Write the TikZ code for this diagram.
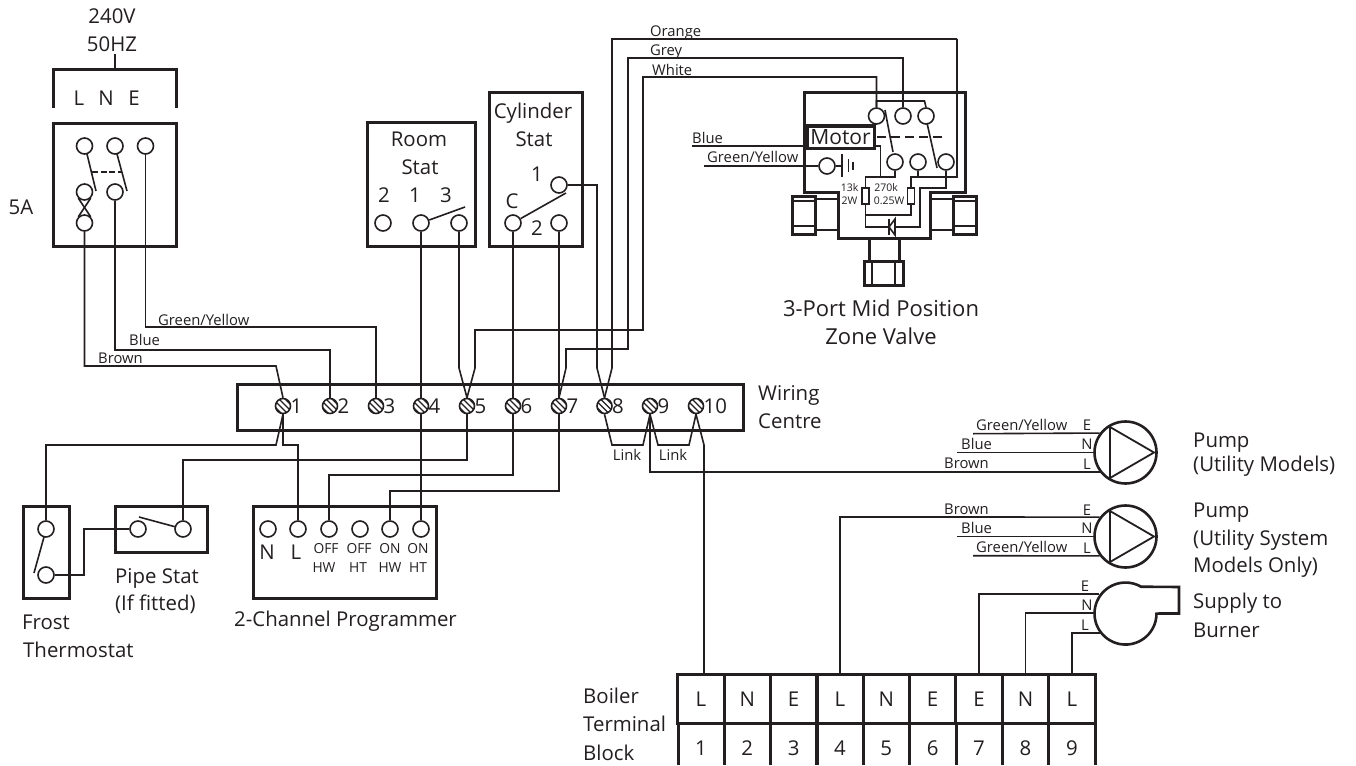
\documentclass[tikz,border=0pt]{standalone}
\usepackage{fontspec}
\setmainfont{Open Sans}
\usetikzlibrary{calc}
\definecolor{ink}{HTML}{231F20}
\tikzset{
  wire/.style={line width=1.6pt,color=ink,line join=miter},
  thick box/.style={draw=ink,line width=3pt,rectangle,inner sep=0pt,line join=miter},
  heavy/.style={line width=3pt,color=ink,line join=miter,line cap=butt},
  term/.style={circle,draw=ink,line width=1.6pt,minimum size=16pt,inner sep=0pt},
  screw/.style={circle,draw=ink,line width=1.6pt,minimum size=15pt,inner sep=0pt,
    path picture={\foreach \d in {-4.5,-1.5,1.5,4.5}{
      \draw[line width=1.1pt,ink] ($(path picture bounding box.center)+(\d-9,-\d-9)$) -- ($(path picture bounding box.center)+(\d+9,-\d+9)$);}}},
  txt/.style={inner sep=0pt,text=ink,font=\fontsize{20.4}{24}\selectfont,text height=14.6pt,text depth=0pt},
  lab/.style={txt},
  biglab/.style={inner sep=0pt,text=ink,font=\fontsize{22}{26}\selectfont,text height=15.7pt,text depth=0pt},
  lableft/.style={txt,anchor=west},
  wl/.style={inner sep=0pt,text=ink,font=\fontsize{14.8}{17}\selectfont,anchor=west,text height=10.6pt,text depth=0pt},
  wc/.style={inner sep=0pt,text=ink,font=\fontsize{14.8}{17}\selectfont,text height=10.6pt,text depth=0pt},
  prg/.style={inner sep=0pt,text=ink,font=\fontsize{13.8}{15}\selectfont,text height=9.9pt,text depth=0pt},
  tiny/.style={inner sep=0pt,text=ink,font=\fontsize{10.5}{12}\selectfont,text height=7.5pt,text depth=0pt},
  cell/.style={thick box,minimum width=46.3pt,minimum height=49.5pt,font=\fontsize{20.4}{24}\selectfont,text=ink},
}
\begin{document}
\begin{tikzpicture}[x=1pt,y=-1pt]
\useasboundingbox[fill=white] (0,0) rectangle (1356,765);

%% mains
\node[lab] (v240) at (112,16) {240V};
\node[lab] (hz50) at (112,44) {50HZ};
\node[lab] (mL) at (79,98) {L};
\node[lab] (mN) at (106,98) {N};
\node[lab] (mE) at (134,98) {E};
\node[lab] (a5) at (21,207) {5A};
\coordinate (brk) at (115,70);
\draw[wire] (115,54) -- (brk);
\draw[heavy] (53,108) -- (53,70) -- (176,70) -- (176,108);
\node[thick box,minimum width=123pt,minimum height=122pt] (fuse) at (114.5,185) {};
\node[term] (f1) at (84.5,146) {};
\node[term] (f2) at (115,146) {};
\node[term] (f3) at (145.5,146) {};
\node[term] (f4) at (84.5,192) {};
\node[term] (f5) at (115,192) {};
\node[term] (f6) at (84.5,223) {};
\draw[wire] (87,154) -- (96,191);
\draw[wire] (117,154) -- (127,191);
\draw[wire,dash pattern=on 6pt off 2.5pt] (92,172) -- (122,172);
\draw[wire] (f4.south west) -- (f6.north east);
\draw[wire] (f4.south east) -- (f6.north west);

%% wiring centre
\node[thick box,minimum width=506pt,minimum height=46pt] (wc) at (490,407) {};
\foreach \n/\x in {1/283,2/330,3/376,4/421,5/467,6/513,7/559,8/604.5,9/650,10/696}{
  \node[screw] (s\n) at (\x,406) {};
  \node[txt,anchor=west] (d\n) at (\x+7.5,406.5) {\n};
}
\node[lableft] (wc1) at (758,393) {Wiring};
\node[lableft] (wc2) at (758,421) {Centre};

%% room stat
\node[thick box,minimum width=108pt,minimum height=123pt] (room) at (421,184.5) {};
\node[lab] (rs1) at (419,139) {Room};
\node[lab] (rs2) at (420,167) {Stat};
\node[lab] (rs3) at (384,195) {2};
\node[lab] (rs4) at (415,195) {1};
\node[lab] (rs5) at (446,195) {3};
\node[term] (r2) at (383,223) {};
\node[term] (r1) at (421,223) {};
\node[term] (r3) at (459,223) {};
\draw[wire] (r1.20) -- (465,207);

%% cylinder stat
\node[thick box,minimum width=93pt,minimum height=153pt] (cyl) at (535.5,169.5) {};
\node[lab] (cs1) at (533,111) {Cylinder};
\node[lab] (cs2) at (534,139) {Stat};
\node[lab] (cs3) at (537,174) {1};
\node[lab] (cs4) at (512,201) {C};
\node[lab] (cs5) at (537,228) {2};
\node[term] (cC) at (513,223) {};
\node[term] (c2) at (559,223) {};
\node[term] (c1) at (559,185) {};
\draw[wire] (cC.30) -- (566,193);

%% valve
\draw[heavy] (838,192) -- (804,192) -- (804,93) -- (965,93) -- (965,192) -- (930,192) -- (930,238) -- (838,238) -- cycle;
\node[thick box,minimum width=67pt,minimum height=22pt,font=\fontsize{21}{24}\selectfont,text=ink] (motor) at (840.5,137) {Motor};
\node[term] (vt1) at (876.5,116) {};
\node[term] (vt2) at (903,116) {};
\node[term] (vt3) at (926,116) {};
\node[term] (vb1) at (895,162) {};
\node[term] (vb2) at (918,162) {};
\node[term] (vb3) at (946,162) {};
\node[term] (vg) at (827,166) {};
\draw[wire] (vt1.north) -- (876.5,101) -- (924.5,101) -- (vt3.north);
\draw[wire] (885,110) -- (893,152);
\draw[wire] (927,123) -- (937,168);
\draw[wire,line width=1.7pt,dash pattern=on 9pt off 5pt] (877,137) -- (945,137);
\draw[wire] (vg.east) -- (842,166);
\draw[heavy,line width=2pt] (842,154) -- (842,177);
\draw[heavy,line width=1.6pt] (848.5,159) -- (848.5,172);
\draw[heavy,line width=1.4pt] (853,162) -- (853,170);
\node[draw=ink,line width=1.5pt,inner sep=0pt,minimum width=7pt,minimum height=16pt] (res1) at (865.5,196) {};
\node[draw=ink,line width=1.5pt,inner sep=0pt,minimum width=7pt,minimum height=16pt] (res2) at (911,196) {};
\draw[wire] (res1.north) -- (865.5,177) -- (895,177) -- (vb1.south);
\draw[wire] (motor.south east |- 0,146) -- (880.5,146) -- (880.5,177);
\draw[wire] (res1.south) -- (865.5,227) -- (888,227);
\draw[wire] (865.5,215) -- (911,215) -- (res2.south);
\draw[wire] (res2.north) -- (911,177) -- (957,177) -- (957,39);
\draw[wire] (vb2.south) -- (918,177);
\draw[wire] (vb3.south) -- (946,188) -- (920,188) -- (920,227) -- (895,227);
\draw[heavy,line width=2pt] (888.5,219) -- (888.5,235);
\draw[heavy,line width=1.6pt] (889,227) -- (895,219) -- (895,235) -- cycle;
\node[tiny] (t13k) at (849.5,188) {13k};
\node[tiny] (t2w) at (849.5,201) {2W};
\node[tiny] (t270) at (886,188) {270k};
\node[tiny] (t025) at (889,201) {0.25W};
%% valve ports
\draw[heavy] (792,196) rectangle (815,234);
\draw[wire] (792,201) -- (815,201);
\draw[wire] (792,226) -- (815,226);
\draw[heavy,line width=2pt] (815,199) -- (838,199);
\draw[wire,line width=2pt] (815,230) -- (838,230);
\draw[heavy] (953,196) rectangle (976,234);
\draw[wire] (953,201) -- (976,201);
\draw[wire] (953,226) -- (976,226);
\draw[heavy,line width=2pt] (930,199) -- (953,199);
\draw[wire,line width=2pt] (930,230) -- (953,230);
\draw[heavy] (869,238) -- (869,261);
\draw[heavy] (899,238) -- (899,261);
\draw[heavy] (864,261) rectangle (903,285);
\draw[heavy,line width=2pt] (872,261) -- (872,285);
\draw[heavy,line width=2pt] (895,261) -- (895,285);
\node[biglab] (zv1) at (881,309) {3-Port Mid Position};
\node[biglab] (zv2) at (881,337) {Zone Valve};
%% valve feeds
\coordinate (blueL) at (692,146);
\coordinate (gyL) at (704,166);
\draw[wire] (blueL) -- (motor.south west |- blueL);
\draw[wire] (gyL) -- (vg.west);
\node[wl] (lb) at (692,138) {Blue};
\node[wl] (lgy) at (707,157) {Green/Yellow};

%% wires from fuse
\draw[wire] (f6.south) -- (84.5,366) -- (276,366) -- (s1.north);
\draw[wire] (f5.south) -- (115,350) -- (330,350) -- (s2.north);
\draw[wire] (f3.south) -- (145.5,327) -- (376,327) -- (s3.north);
\node[wl] (l1) at (158,320) {Green/Yellow};
\node[wl] (l2) at (129,340) {Blue};
\node[wl] (l3) at (98,358) {Brown};

%% stat wires
\draw[wire] (r1.south) -- (s4.north);
\draw[wire] (r3.south) -- (459,368) -- (s5.north);
\draw[wire] (cC.south) -- (s6.north);
\draw[wire] (c2.south) -- (s7.north);
\draw[wire] (c1.east) -- (597,185) -- (597,368) -- (s8.north);

%% valve to centre
\draw[wire] (vt1.north) -- (876.5,77) -- (643,77) -- (643,330) -- (475,330) -- (475,368) -- (s5.north);
\draw[wire] (vt2.north) -- (903,58) -- (628,58) -- (628,349) -- (566,349) -- (566,368) -- (s7.north);
\draw[wire] (957,39) -- (612,39) -- (612,368) -- (s8.north);
\node[wl] (lo) at (650,31) {Orange};
\node[wl] (lg) at (650,50) {Grey};
\node[wl] (lw) at (652,70) {White};

%% frost stat
\node[thick box,minimum width=46pt,minimum height=92pt] (frost) at (46,552) {};
\node[term] (fr1) at (46,529) {};
\node[term] (fr2) at (46,575) {};
\draw[wire] (44,537) -- (34,573);
\node[lableft] (ft1) at (22,622) {Frost};
\node[lableft] (ft2) at (23,650) {Thermostat};
%% pipe stat
\node[thick box,minimum width=92pt,minimum height=46pt] (pipe) at (161,529) {};
\node[term] (p1) at (138,529) {};
\node[term] (p2) at (183,529) {};
\draw[wire] (139,517) -- (176,527);
\node[lableft] (pt1) at (115,576) {Pipe Stat};
\node[lableft] (pt2) at (115,603) {(If fitted)};
\draw[wire] (fr2.east) -- (84,575) -- (84,529) -- (p1.west);
%% programmer
\node[thick box,minimum width=183pt,minimum height=92pt] (prog) at (344.5,552) {};
\node[term] (pN) at (268,529) {};
\node[term] (pL) at (298,529) {};
\node[term] (pOH) at (329,529) {};
\node[term] (pOT) at (360,529) {};
\node[term] (pNH) at (390,529) {};
\node[term] (pNT) at (421,529) {};
\node[lab] (tN) at (267,552) {N};
\node[lab] (tL) at (296,552) {L};
\node[prg] (a1) at (326,549) {OFF};
\node[prg] (a2) at (324,567.5) {HW};
\node[prg] (a3) at (359,549) {OFF};
\node[prg] (a4) at (358,567.5) {HT};
\node[prg] (a5b) at (390,549) {ON};
\node[prg] (a6) at (390,567.5) {HW};
\node[prg] (a7) at (418,549) {ON};
\node[prg] (a8) at (418,567.5) {HT};
\node[lableft] (pgt) at (234,619) {2-Channel Programmer};
%% centre to lower devices
\draw[wire] (s1.south) -- (276,445) -- (46,445) -- (fr1.north);
\draw[wire] (s1.south) -- (283,445) -- (298,445) -- (pL.north);
\draw[wire] (s5.south) -- (467,460) -- (183,460) -- (p2.north);
\draw[wire] (s6.south) -- (513,475) -- (329,475) -- (pOH.north);
\draw[wire] (s7.south) -- (559,491) -- (390,491) -- (pNH.north);
\draw[wire] (s4.south) -- (pNT.north);
%% links
\draw[wire] (s8.south) -- (612,445) -- (643,445) -- (s9.south);
\draw[wire] (s9.south) -- (658,445) -- (689,445) -- (s10.south);
\node[wc] (lk1) at (627,455) {Link};
\node[wc] (lk2) at (673,455) {Link};

%% pumps
\node[circle,draw=ink,line width=2.6pt,minimum size=62pt,inner sep=0pt] (pump1) at (1125.5,452.5) {};
\node[circle,draw=ink,line width=2.6pt,minimum size=62pt,inner sep=0pt] (pump2) at (1125.5,536.5) {};
\draw[wire,line width=1.8pt] (1110,427) -- (1110,478) -- (1154,452.5) -- cycle;
\draw[wire,line width=1.8pt] (1110,511) -- (1110,562) -- (1154,536.5) -- cycle;
\draw[wire] (973,433.7) -- (pump1.143);
\draw[wire] (957,452.5) -- (pump1.west);
\draw[wire] (s9.south) -- (650,472) -- (1100.5,472);
\node[wl] (p11) at (976,425) {Green/Yellow};
\node[wl] (p12) at (961,444) {Blue};
\node[wl] (p13) at (944,463) {Brown};
\node[wc] (e1) at (1087,425) {E};
\node[wc] (n1) at (1087,444) {N};
\node[wc] (l1b) at (1087,464) {L};
\node[wl] (p21) at (944,509) {Brown};
\node[wl] (p22) at (961,528) {Blue};
\node[wl] (p23) at (976,547) {Green/Yellow};
\node[wc] (e2) at (1087,510) {E};
\node[wc] (n2) at (1087,528) {N};
\node[wc] (l2b) at (1087,548) {L};
\node[lableft] (pl1) at (1193,440) {Pump};
\node[lableft] (pl2) at (1193,464) {(Utility Models)};
\node[lableft] (pl3) at (1193,510) {Pump};
\node[lableft] (pl4) at (1193,538) {(Utility System};
\node[lableft] (pl5) at (1193,565) {Models Only)};
\node[lableft] (pl6) at (1193,601) {Supply to};
\node[lableft] (pl7) at (1193,630) {Burner};

%% fan
\draw[heavy,line width=2.6pt] (1141,586.7) arc[start angle=60,end angle=360,radius=31pt] -- (1179,613.5) -- (1179,587) -- cycle;
\coordinate (fanE) at (1099,594);
\coordinate (fanN) at (1094.5,613);
\coordinate (fanL) at (1100,633);
\node[wc] (e3) at (1085,586) {E};
\node[wc] (n3) at (1087,605) {N};
\node[wc] (l3b) at (1085,625) {L};

%% terminal block
\foreach \i/\x/\t in {1/701/L,2/747.3/N,3/793.6/E,4/840/L,5/886.3/N,6/932.6/E,7/979/E,8/1025.5/N,9/1072/L}{
  \node[cell] (top\i) at (\x,699) {\t};
  \node[txt] (bot\i) at (\x,748.5) {\i};
}
\foreach \x in {678,724.3,770.6,817,863.3,909.6,956,1002.3,1048.7,1095}
  \draw[heavy] (\x,723.7) -- (\x,765);
\draw[heavy,line width=3.8pt] (817,674) -- (817,765);
\node[lableft] (bt1) at (583,696) {Boiler};
\node[lableft] (bt2) at (583,724) {Terminal};
\node[lableft] (bt3) at (583,753) {Block};
%% block feeds
\draw[wire] (s10.south) -- (704,445) -- (704,674);
\draw[wire] (top4.north) -- (840,517) -- (pump2.143);
\draw[wire] (957,536.5) -- (pump2.west);
\draw[wire] (973,555.7) -- (pump2.217);
\draw[wire] (top7.north) -- (979,594) -- (fanE);
\draw[wire] (top8.north) -- (1025.5,613) -- (fanN);
\draw[wire] (top9.north) -- (1072,633) -- (fanL);
\end{tikzpicture}
\end{document}
